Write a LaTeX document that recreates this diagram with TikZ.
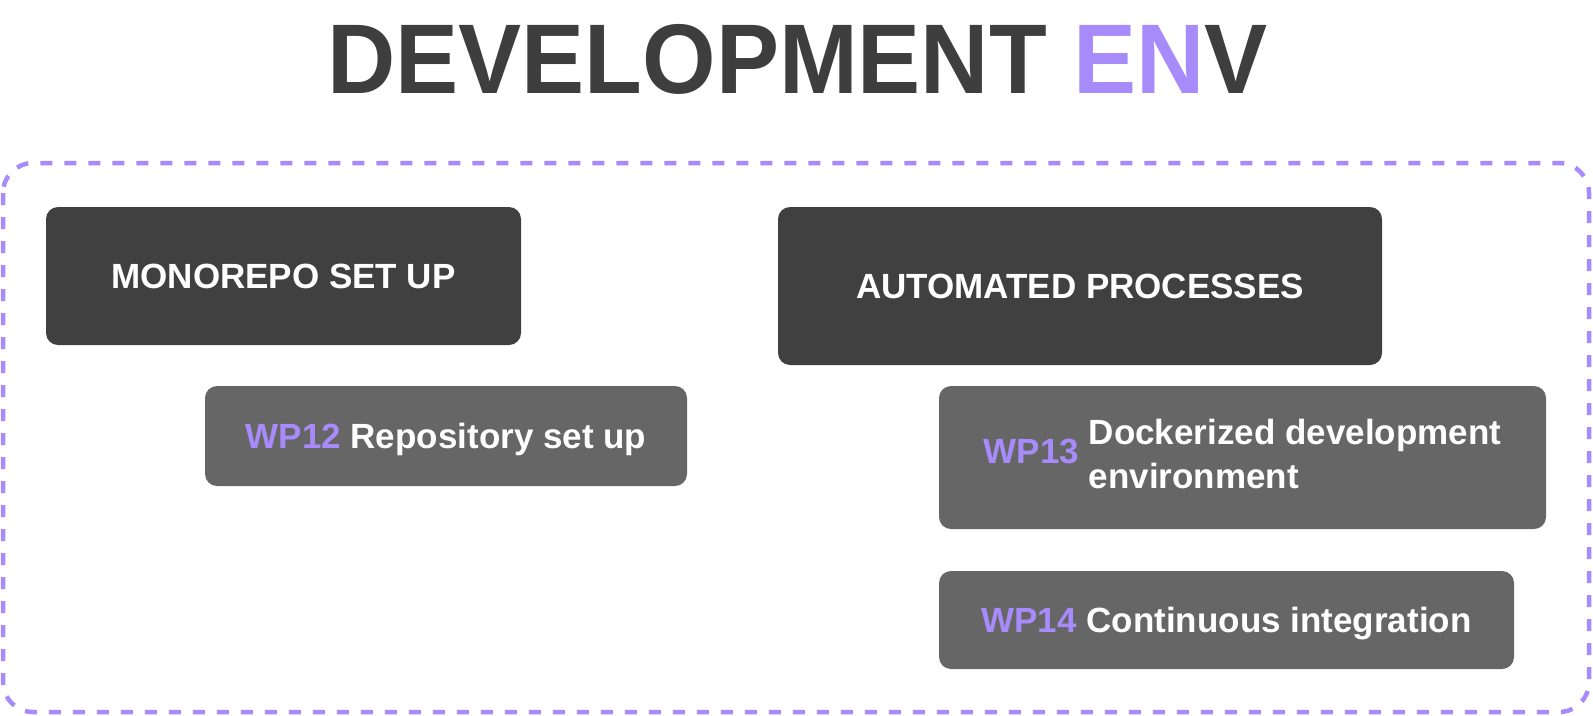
\documentclass[tikz,border=0pt]{standalone}
\usepackage{fontspec}
\setmainfont{Liberation Sans}
\definecolor{ink}{HTML}{3E3E3E}
\definecolor{darkbox}{HTML}{404040}
\definecolor{subbox}{HTML}{666666}
\definecolor{violet}{HTML}{A78BFA}
\tikzset{
  headbox/.style={fill=darkbox, rounded corners=12pt, inner sep=0pt, text=white,
    font=\fontsize{35}{44}\selectfont\bfseries},
  wpbox/.style={fill=subbox, rounded corners=12pt, inner sep=0pt, text=white,
    font=\fontsize{35}{44}\selectfont\bfseries},
  oneline/.style={text height=25pt, text depth=0pt},
  frame/.style={draw=violet, line width=4.5pt, dash pattern=on 12pt off 12pt, rounded corners=30pt}
}
\begin{document}
\begin{tikzpicture}[x=1pt,y=-1pt]
\useasboundingbox (0,0) rectangle (1593,715);
\node[anchor=base, text=ink, font=\fontsize{99}{110}\selectfont\bfseries, inner sep=0pt] (title) at (797.5,93.5)
  {\scalebox{0.955}[1]{DEVELOPMENT \textcolor{violet}{EN}V}};
\coordinate (fa) at (3,163);
\coordinate (fb) at (1589,712);
\draw[frame] (fa) rectangle (fb);
\node[headbox, oneline, minimum width=475pt, minimum height=138pt] (mono) at (283.5,276) {MONOREPO SET UP};
\node[headbox, oneline, minimum width=604pt, minimum height=158pt] (auto) at (1080,286) {AUTOMATED PROCESSES};
\node[wpbox, oneline, minimum width=482pt, minimum height=100pt] (wp12) at (446,436)
  {\textcolor{violet}{WP12} Repository set up};
\node[wpbox, minimum width=607pt, minimum height=143pt] (wp13) at (1242.5,457.5)
  {\textcolor{violet}{WP13} \begin{tabular}[c]{@{}l@{}}Dockerized development\\environment\end{tabular}};
\node[wpbox, oneline, minimum width=575pt, minimum height=98pt] (wp14) at (1226.5,620)
  {\textcolor{violet}{WP14} Continuous integration};
\end{tikzpicture}
\end{document}
